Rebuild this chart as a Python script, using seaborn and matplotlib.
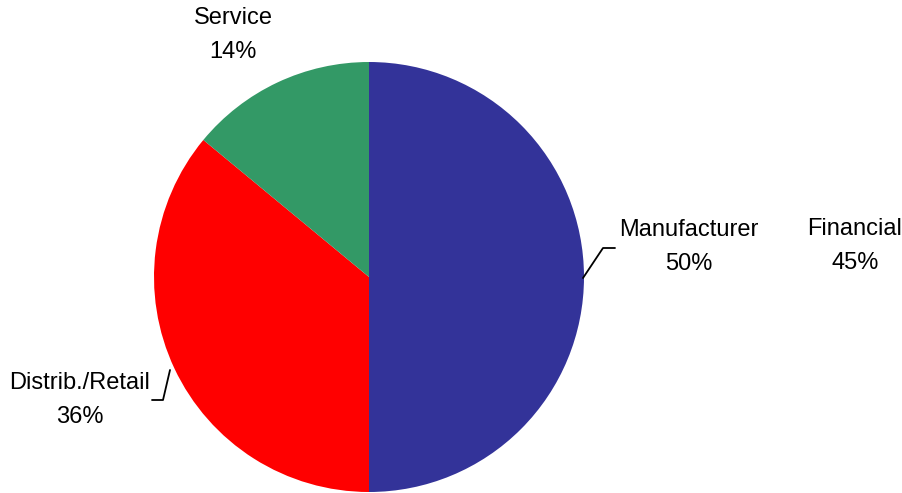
import matplotlib
matplotlib.use("Agg")
import matplotlib.pyplot as plt
import seaborn as sns
from matplotlib import font_manager

categories = ["Manufacturer", "Distrib./Retail", "Service"]
values = [50, 36, 14]
pct_labels = ["50%", "36%", "14%"]
colors = ["#333399", "#FF0000", "#339966"]
extra_label = "Financial"
extra_pct = "45%"

sns.set_style("white")
names = {f.name for f in font_manager.fontManager.ttflist}
fam = "Liberation Sans Narrow" if "Liberation Sans Narrow" in names else "Liberation Sans"
plt.rcParams["font.family"] = [fam, "DejaVu Sans"]

W, H = 903, 493
fig = plt.figure(figsize=(W / 100, H / 100), dpi=100)
ax = fig.add_axes([0, 0, 1, 1])

cx, cy, r = 369, H - 277, 215
ax.pie(values, colors=colors, startangle=90, counterclock=False,
       center=(cx, cy), radius=r, frame=True,
       wedgeprops=dict(linewidth=0))
ax.set_xlim(0, W)
ax.set_ylim(0, H)
ax.set_aspect("equal")
ax.axis("off")

fs = 17
def label(x, y, name, pct):
    ax.text(x, H - y, name, ha="center", va="center", fontsize=fs, color="black")
    ax.text(x, H - y - 34, pct, ha="center", va="center", fontsize=fs, color="black")

label(689, 230, categories[0], pct_labels[0])
label(80, 383, categories[1], pct_labels[1])
label(233, 18, categories[2], pct_labels[2])
label(855, 229, extra_label, extra_pct)

# leader lines
ax.plot([583, 603, 615], [H - 278, H - 248, H - 248], color="black", lw=1.3)
ax.plot([170, 163, 152], [H - 370, H - 400, H - 400], color="black", lw=1.3)

fig.savefig("out.png", dpi=100)
